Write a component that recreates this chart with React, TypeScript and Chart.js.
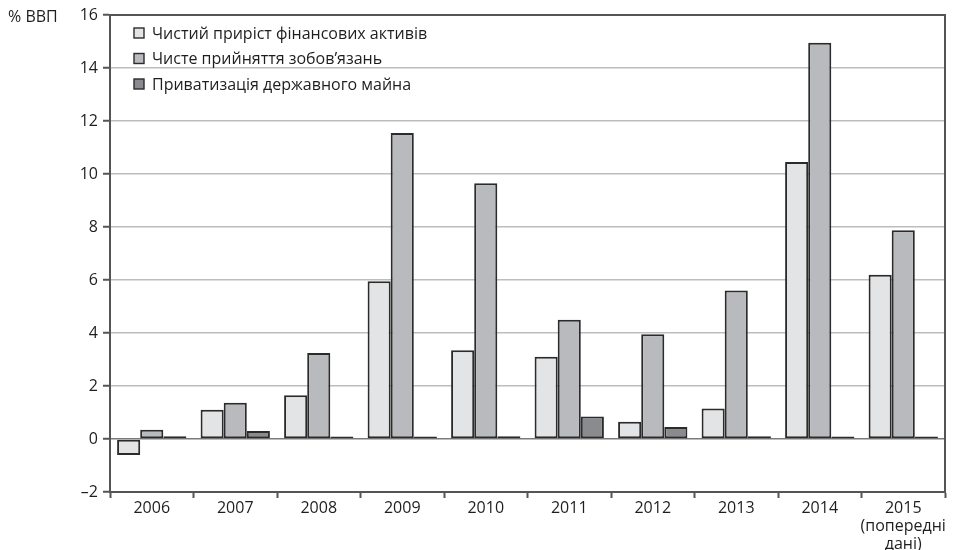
import { useEffect, useRef } from "react";
import { Chart, registerables } from "chart.js";

Chart.register(...registerables);

const categories: (string | string[])[] = [
  "2006", "2007", "2008", "2009", "2010", "2011", "2012", "2013", "2014",
  ["2015", "(попередні", "дані)"],
];
const netFinancialAssets = [-0.6, 1.1, 1.65, 5.95, 3.35, 3.1, 0.65, 1.15, 10.45, 6.2];
const netLiabilities = [0.35, 1.37, 3.25, 11.55, 9.65, 4.5, 3.95, 5.6, 14.95, 7.88];
const privatization = [0.1, 0.3, 0.03, 0.07, 0.1, 0.85, 0.45, 0.1, 0.03, 0.03];
const seriesNames = [
  "Чистий приріст фінансових активів",
  "Чисте прийняття зобов’язань",
  "Приватизація державного майна",
];
const seriesColors = ["#e3e4e6", "#b9babd", "#8a8b8e"];
const yMin = -2;
const yMax = 16;
const yStep = 2;
const unitLabel = "% ВВП";

const FONT = "'Open Sans', 'Noto Sans', sans-serif";

const extrasPlugin = {
  id: "extras",
  afterDraw(chart: any) {
    const { ctx, chartArea } = chart;
    ctx.save();
    ctx.strokeStyle = "#555";
    ctx.lineWidth = 2;
    ctx.beginPath();
    ctx.moveTo(chartArea.left, chartArea.top);
    ctx.lineTo(chartArea.right, chartArea.top);
    ctx.lineTo(chartArea.right, chartArea.bottom);
    ctx.stroke();
    ctx.font = `16px ${FONT}`;
    ctx.fillStyle = "#1e1e1e";
    ctx.textBaseline = "middle";
    ctx.textAlign = "left";
    ctx.fillText(unitLabel, 8, 17);
    chart.data.datasets.forEach((ds: any, i: number) => {
      const y = 33 + i * 25.5;
      const bx = 134;
      ctx.fillStyle = ds.backgroundColor;
      ctx.fillRect(bx, y - 5, 10, 10);
      ctx.strokeStyle = "#2b2b2b";
      ctx.lineWidth = 1.4;
      ctx.strokeRect(bx, y - 5, 10, 10);
      ctx.fillStyle = "#1e1e1e";
      ctx.fillText(ds.label, 152, y + 1);
    });
    ctx.restore();
  },
};

export default function App() {
  const ref = useRef<HTMLCanvasElement | null>(null);
  useEffect(() => {
    if (!ref.current) return;
    const mk = (label: string, data: number[], color: string, minLen: number) => ({
      label,
      data,
      backgroundColor: color,
      borderColor: "#2b2b2b",
      borderWidth: 2,
      borderSkipped: false,
      minBarLength: minLen,
      categoryPercentage: 0.83,
      barPercentage: 1.0,
    });
    const chart = new Chart(ref.current, {
      type: "bar",
      data: {
        labels: categories,
        datasets: [
          mk(seriesNames[0], netFinancialAssets, seriesColors[0], 0),
          mk(seriesNames[1], netLiabilities, seriesColors[1], 0),
          mk(seriesNames[2], privatization, seriesColors[2], 2.5),
        ],
      },
      options: {
        animation: false,
        responsive: false,
        layout: { padding: { left: 0, right: 13, top: 15, bottom: 0 } },
        plugins: {
          legend: { display: false },
          tooltip: { enabled: false },
        },
        scales: {
          x: {
            offset: true,
            grid: {
              offset: true,
              drawOnChartArea: false,
              drawTicks: true,
              tickLength: 6,
              tickColor: "#555",
              tickWidth: 2,
            },
            border: { display: true, color: "#555", width: 2 },
            ticks: {
              font: { family: FONT, size: 16, lineHeight: 1.1 },
              color: "#1e1e1e",
              padding: 2,
              maxRotation: 0,
              autoSkip: false,
            },
            afterFit: (s: any) => {
              s.height = 58;
            },
          },
          y: {
            min: yMin,
            max: yMax,
            grid: {
              color: (c: any) =>
                c.tick && c.tick.value === 0
                  ? "#7a7a7a"
                  : c.tick && c.tick.value === yMax
                  ? "#555"
                  : "#bdbdbf",
              lineWidth: 1.5,
              drawTicks: true,
              tickLength: 7,
              tickColor: "#555",
              tickWidth: 2,
            },
            border: { display: true, color: "#555", width: 2 },
            ticks: {
              stepSize: yStep,
              font: { family: FONT, size: 16 },
              color: "#1e1e1e",
              padding: 5,
              callback: (v: any) => (v < 0 ? "–" + Math.abs(v) : String(v)),
            },
            afterFit: (s: any) => {
              s.width = 110;
            },
          },
        },
      },
      plugins: [extrasPlugin],
    } as any);
    return () => chart.destroy();
  }, []);
  return (
    <div style={{ position: "absolute", left: 0, top: 0, width: 958, height: 550, background: "#fff" }}>
      <canvas ref={ref} width={958} height={550} />
    </div>
  );
}
